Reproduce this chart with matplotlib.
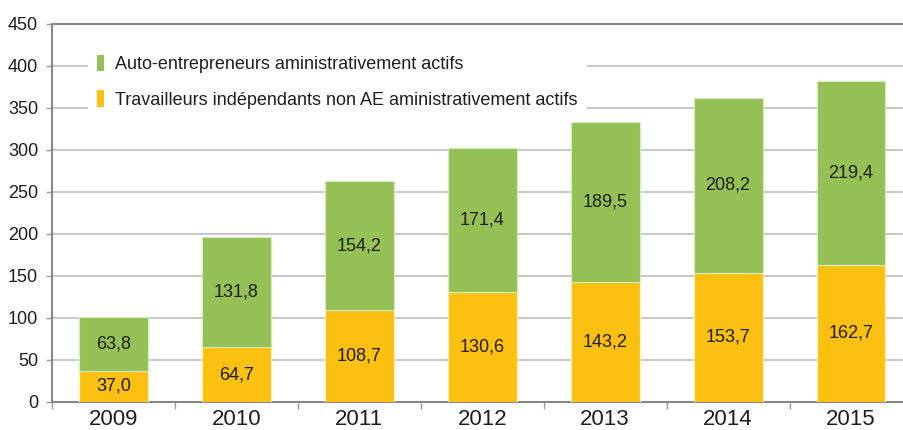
import matplotlib
matplotlib.use("Agg")
import matplotlib.pyplot as plt
from matplotlib.patches import Patch
import numpy as np

years = ["2009", "2010", "2011", "2012", "2013", "2014", "2015"]
non_ae = [37.0, 64.7, 108.7, 130.6, 143.2, 153.7, 162.7]
ae = [63.8, 131.8, 154.2, 171.4, 189.5, 208.2, 219.4]
label_ae = "Auto-entrepreneurs aministrativement actifs"
label_non_ae = "Travailleurs indépendants non AE aministrativement actifs"
yticks = [0, 50, 100, 150, 200, 250, 300, 350, 400, 450]

GREEN = "#95C055"
YELLOW = "#FBC010"
TXT = "#1e1e1e"

plt.rcParams['font.family'] = ['Liberation Sans', 'DejaVu Sans']

fig = plt.figure(figsize=(9.04, 4.30), dpi=100)
ax = fig.add_axes([52/904, 1-401.7/430, 860.5/904, (401.7-24)/430])

x = np.arange(len(years))
w = 0.56
ax.bar(x, non_ae, width=w, color=YELLOW, edgecolor="#FFF2C0", linewidth=0.8, zorder=3)
ax.bar(x, ae, width=w, bottom=non_ae, color=GREEN, edgecolor="#D8EBC0", linewidth=0.8, zorder=3)

for i in range(len(years)):
    ax.text(x[i], non_ae[i] / 2, f"{non_ae[i]:.1f}".replace(".", ","),
            ha="center", va="center", fontsize=13, color=TXT, zorder=4)
    ax.text(x[i], non_ae[i] + ae[i] / 2, f"{ae[i]:.1f}".replace(".", ","),
            ha="center", va="center", fontsize=13, color=TXT, zorder=4)

ax.set_xlim(-0.5, len(years) - 0.5)
ax.set_ylim(0, 450)
ax.set_yticks(yticks)
ax.set_yticklabels([str(t) for t in yticks], fontsize=13, color=TXT)
ax.yaxis.grid(True, color="#BDBDBD", linewidth=1.2, zorder=0)
ax.set_axisbelow(True)

ax.set_xticks(x)
ax.set_xticklabels(years, fontsize=16, color=TXT)
ax.set_xticks(np.arange(-0.5, len(years), 1.0), minor=True)
ax.tick_params(axis="x", which="major", length=0, pad=5)
ax.tick_params(axis="x", which="minor", length=5, color="#999999", width=1)
ax.tick_params(axis="y", length=4, color="#999999", width=1, pad=6)

for s in ["left", "bottom", "top"]:
    ax.spines[s].set_color("#888888")
    ax.spines[s].set_linewidth(1.5)
ax.spines["right"].set_visible(False)

handles = [Patch(facecolor=GREEN, edgecolor="none"), Patch(facecolor=YELLOW, edgecolor="none")]
leg = ax.legend(handles, [label_ae, label_non_ae], loc="upper left",
                bbox_to_anchor=(27/860.5, 1-13/377.7), frameon=True, fontsize=13,
                handlelength=0.4, handleheight=1.0, handletextpad=0.6,
                labelspacing=0.95, borderpad=0.5, fancybox=False)
leg.get_frame().set_facecolor("white")
leg.get_frame().set_edgecolor("none")
leg.get_frame().set_alpha(1)
leg.set_zorder(2)
for t in leg.get_texts():
    t.set_color(TXT)

fig.savefig("out.png", dpi=100)
